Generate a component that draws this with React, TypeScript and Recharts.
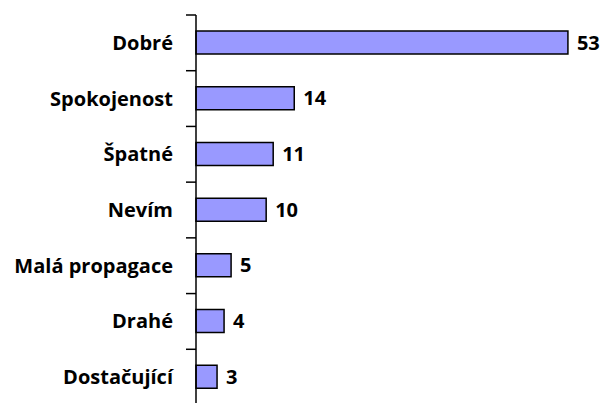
import { BarChart, Bar, XAxis, YAxis, LabelList } from 'recharts';

const categories = ['Dobré', 'Spokojenost', 'Špatné', 'Nevím', 'Malá propagace', 'Drahé', 'Dostačující'];
const counts = [53, 14, 11, 10, 5, 4, 3];

const data = categories.map((name, i) => ({ name, value: counts[i] }));

const FONT = '"Open Sans", sans-serif';
const AXIS_X = 196;
const BAND = 390 / categories.length;

function CategoryTick(props: any) {
  const { y, payload } = props;
  const ty = y - BAND / 2;
  return (
    <g>
      <path d={`M${AXIS_X - 10},${ty}H${AXIS_X}`} stroke="#000" strokeWidth={1.5} fill="none" />
      <text
        x={AXIS_X - 23}
        y={y}
        dy={7}
        textAnchor="end"
        fontFamily={FONT}
        fontWeight={700}
        fontSize={20}
        fill="#000"
      >
        {payload.value}
      </text>
    </g>
  );
}

export default function App() {
  return (
    <div style={{ position: 'absolute', left: 0, top: 0, width: 604, height: 403, overflow: 'hidden', background: '#fff' }}>
      <BarChart
        width={604}
        height={405}
        data={data}
        layout="vertical"
        margin={{ top: 15, right: 8, bottom: 0, left: 0 }}
      >
        <XAxis type="number" domain={[0, 57]} hide />
        <YAxis
          type="category"
          dataKey="name"
          width={AXIS_X}
          axisLine={{ stroke: '#000', strokeWidth: 1.5 }}
          tickLine={false}
          tick={<CategoryTick />}
          interval={0}
        />
        <Bar dataKey="value" fill="#9999FF" stroke="#000" strokeWidth={1.5} barSize={23} isAnimationActive={false}>
          <LabelList
            dataKey="value"
            position="right"
            offset={9}
            fontFamily={FONT}
            fontWeight={700}
            fontSize={20}
            fill="#000"
          />
        </Bar>
      </BarChart>
    </div>
  );
}
